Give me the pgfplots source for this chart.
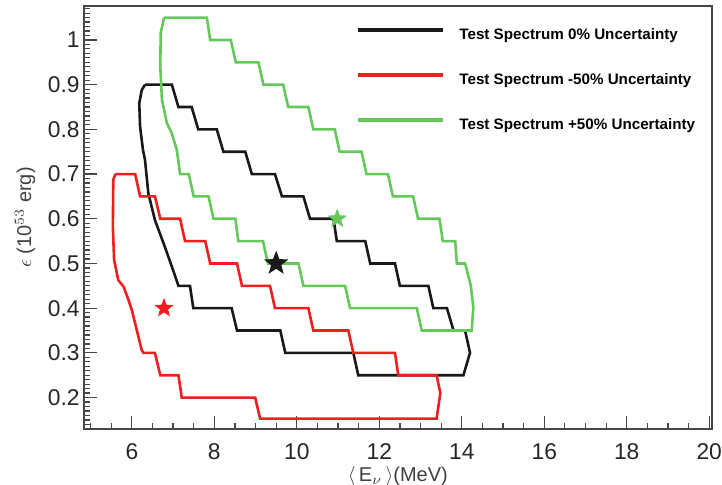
\documentclass[border=0pt]{standalone}
\usepackage{fontspec}
\setmainfont{Liberation Sans}
\usepackage{pgfplots}
\pgfplotsset{compat=1.18}
\definecolor{cblack}{RGB}{25,25,25}
\definecolor{cred}{RGB}{240,30,30}
\definecolor{cgreen}{RGB}{100,200,90}
\definecolor{frame}{RGB}{70,70,70}
\pgfdeclareplotmark{fstar}{%
  \pgfpathmoveto{\pgfpointpolar{90}{\pgfplotmarksize}}%
  \pgfpathlineto{\pgfpointpolar{126}{0.42\pgfplotmarksize}}%
  \pgfpathlineto{\pgfpointpolar{162}{\pgfplotmarksize}}%
  \pgfpathlineto{\pgfpointpolar{198}{0.42\pgfplotmarksize}}%
  \pgfpathlineto{\pgfpointpolar{234}{\pgfplotmarksize}}%
  \pgfpathlineto{\pgfpointpolar{270}{0.42\pgfplotmarksize}}%
  \pgfpathlineto{\pgfpointpolar{306}{\pgfplotmarksize}}%
  \pgfpathlineto{\pgfpointpolar{342}{0.42\pgfplotmarksize}}%
  \pgfpathlineto{\pgfpointpolar{18}{\pgfplotmarksize}}%
  \pgfpathlineto{\pgfpointpolar{54}{0.42\pgfplotmarksize}}%
  \pgfpathclose
  \pgfusepathqfillstroke}
\begin{document}
\begin{tikzpicture}
\begin{axis}[
  at={(0,0)}, anchor=south west,
  scale only axis, width=313.85pt, height=211.65pt,
  xmin=4.84, xmax=20.06, ymin=0.129, ymax=1.076,
  xtick={6,8,10,12,14,16,18,20},
  minor xtick={5,5.5,6,6.5,7,7.5,8,8.5,9,9.5,10,10.5,11,11.5,12,12.5,13,13.5,14,14.5,15,15.5,16,16.5,17,17.5,18,18.5,19,19.5,20},
  ytick={0.2,0.3,0.4,0.5,0.6,0.7,0.8,0.9,1},
  minor ytick={0.13,0.14,0.15,0.16,0.17,0.18,0.19,0.21,0.22,0.23,0.24,0.25,0.26,0.27,0.28,0.29,0.31,0.32,0.33,0.34,0.35,0.36,0.37,0.38,0.39,0.41,0.42,0.43,0.44,0.45,0.46,0.47,0.48,0.49,0.51,0.52,0.53,0.54,0.55,0.56,0.57,0.58,0.59,0.61,0.62,0.63,0.64,0.65,0.66,0.67,0.68,0.69,0.71,0.72,0.73,0.74,0.75,0.76,0.77,0.78,0.79,0.81,0.82,0.83,0.84,0.85,0.86,0.87,0.88,0.89,0.91,0.92,0.93,0.94,0.95,0.96,0.97,0.98,0.99,1.01,1.02,1.03,1.04,1.05,1.06,1.07},
  xtick pos=bottom, ytick pos=left,
  tick align=inside,
  major tick length=6.5pt, minor tick length=3pt,
  tick style={frame, line width=0.6pt},
  axis line style={frame, line width=0.8pt},
  /pgf/number format/assume math mode=true,
  ticklabel style={font=\fontsize{11.4}{12}\selectfont, text=black!85},
  xticklabel style={yshift=-3.5pt},
  yticklabel style={xshift=1.3pt},
  xlabel={$\langle\,$E$_{\nu}\,\rangle$(MeV)},
  ylabel={$\epsilon$ (10$^{53}$ erg)},
  label style={font=\fontsize{10}{12}\selectfont, text=black!75},
  xlabel style={at={(axis description cs:0.5,-0.112)}, anchor=center},
  ylabel style={at={(axis description cs:-0.094,0.5)}, anchor=center},
  legend style={at={(axis description cs:0.433,0.957)}, anchor=north west,
    draw=none, fill=none, inner sep=0pt, row sep=11.5pt,
    nodes={inner sep=2pt},
    font=\fontsize{7.6}{9}\selectfont\bfseries,
    /tikz/every odd column/.append style={column sep=5.5pt}},
  legend cell align=left,
  legend image code/.code={\draw[#1, line width=1.6pt] (0pt,2.8pt) -- (42.5pt,2.8pt);},
]
\addplot[cblack, line width=1.3pt] coordinates {
(6.32,0.90) (6.97,0.90) (7.13,0.85) (7.45,0.85) (7.61,0.80) (8.06,0.80)
(8.22,0.75) (8.75,0.75) (8.91,0.70) (9.47,0.70) (9.64,0.65) (10.16,0.65)
(10.32,0.60) (10.89,0.60) (10.97,0.55) (11.66,0.55) (11.78,0.50) (12.38,0.50)
(12.50,0.45) (13.19,0.45) (13.31,0.40) (13.64,0.40) (13.80,0.35) (14.08,0.35)
(14.20,0.30) (14.04,0.25) (11.49,0.25) (11.37,0.30) (9.72,0.30) (9.60,0.35)
(8.55,0.35) (8.42,0.40) (7.49,0.40) (7.41,0.45) (7.13,0.45) (6.97,0.493)
(6.77,0.545) (6.56,0.597) (6.40,0.657) (6.32,0.731) (6.27,0.754) (6.20,0.806)
(6.18,0.858) (6.24,0.888) (6.32,0.90)
};
\addlegendentry{Test Spectrum 0\% Uncertainty}
\addplot[cred, line width=1.3pt] coordinates {
(5.60,0.70) (6.08,0.70) (6.20,0.65) (6.56,0.65) (6.69,0.60) (7.17,0.60)
(7.29,0.55) (7.78,0.55) (7.90,0.50) (8.55,0.50) (8.67,0.45) (9.35,0.45)
(9.47,0.40) (10.28,0.40) (10.40,0.35) (11.25,0.35) (11.37,0.30) (12.38,0.30)
(12.46,0.25) (13.39,0.25) (13.48,0.21) (13.39,0.153) (9.11,0.153) (8.99,0.20)
(7.21,0.20) (7.13,0.25) (6.69,0.25) (6.56,0.30) (6.28,0.30) (6.24,0.306)
(6.12,0.351) (6.00,0.396) (5.92,0.418) (5.80,0.448) (5.67,0.463) (5.57,0.508)
(5.54,0.582) (5.55,0.687) (5.60,0.70)
};
\addlegendentry{Test Spectrum -50\% Uncertainty}
\addplot[cgreen, line width=1.3pt] coordinates {
(6.78,1.05) (7.82,1.05) (7.90,1.00) (8.40,1.00) (8.52,0.95) (9.07,0.95)
(9.19,0.90) (9.67,0.90) (9.79,0.85) (10.28,0.85) (10.40,0.80) (10.92,0.80)
(11.04,0.75) (11.57,0.75) (11.69,0.70) (12.21,0.70) (12.33,0.65) (12.82,0.65)
(12.94,0.60) (13.46,0.60) (13.54,0.55) (13.84,0.55) (13.88,0.50) (14.08,0.50)
(14.22,0.45) (14.28,0.40) (14.24,0.35) (13.03,0.35) (12.91,0.40) (11.29,0.40)
(11.17,0.45) (10.16,0.45) (10.04,0.50) (9.30,0.50) (9.18,0.55) (8.58,0.55)
(8.51,0.60) (7.98,0.60) (7.86,0.65) (7.50,0.65) (7.38,0.70) (7.17,0.70)
(7.09,0.754) (6.97,0.791) (6.85,0.814) (6.73,0.866) (6.69,0.94) (6.70,1.015)
(6.78,1.05)
};
\addlegendentry{Test Spectrum +50\% Uncertainty}
\addplot[only marks, mark=fstar, mark size=5.8pt, cblack, forget plot] coordinates {(9.50,0.50)};
\addplot[only marks, mark=fstar, mark size=4.5pt, cred, forget plot] coordinates {(6.78,0.40)};
\addplot[only marks, mark=fstar, mark size=4.5pt, cgreen, forget plot] coordinates {(10.98,0.60)};
\end{axis}
\pgfresetboundingbox
\useasboundingbox (-42pt,-27.85pt) rectangle (319pt,214.65pt);
\end{tikzpicture}
\end{document}
